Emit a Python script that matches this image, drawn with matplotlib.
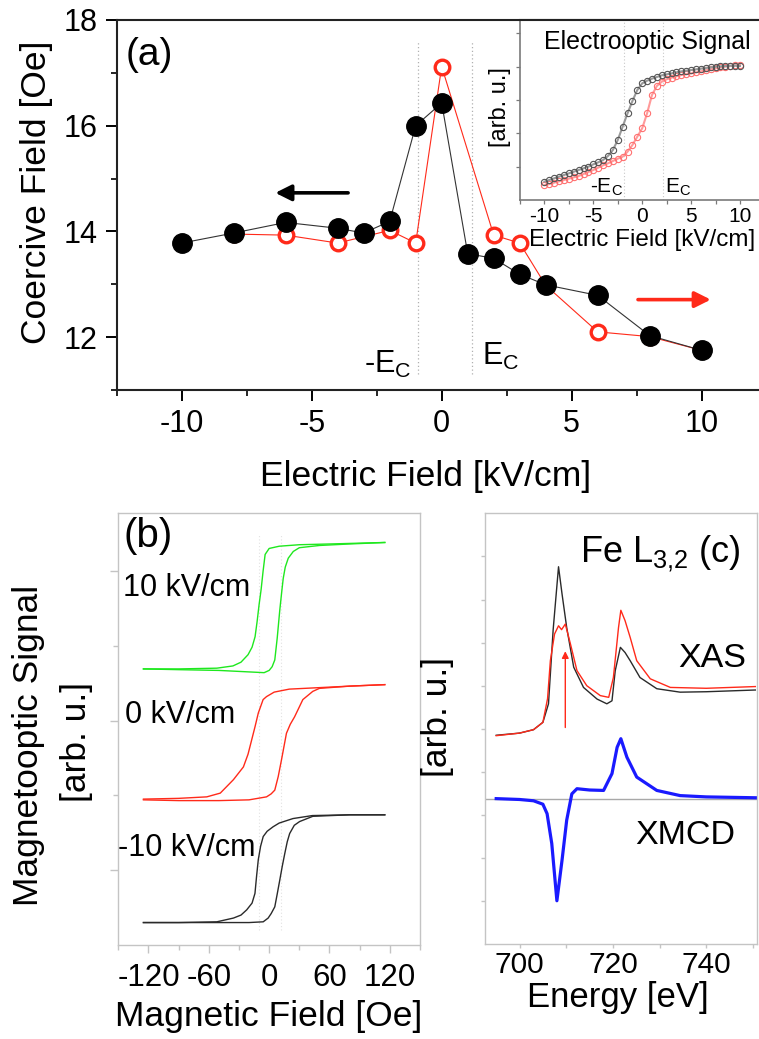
import matplotlib
matplotlib.use("Agg")
import matplotlib.pyplot as plt

plt.rcParams["font.family"] = ["Liberation Sans", "DejaVu Sans"]
plt.rcParams["mathtext.fontset"] = "custom"
plt.rcParams["mathtext.rm"] = "Liberation Sans"
plt.rcParams["mathtext.it"] = "Liberation Sans"
plt.rcParams["axes.unicode_minus"] = False

W, H = 759, 1039

# (a) coercive field vs electric field
field_black = [-10, -8, -6, -4, -3, -2, -1, 0, 1, 2, 3, 4, 6, 8, 10]
hc_black = [13.78, 13.97, 14.17, 14.06, 13.97, 14.19, 16.0, 16.43, 13.58, 13.49, 13.19, 12.99, 12.79, 12.03, 11.75]
field_red = [-8, -6, -4, -2, -1, 0, 2, 3, 4, 6, 8, 10]
hc_red = [13.95, 13.93, 13.78, 14.02, 13.78, 17.12, 13.93, 13.78, 12.98, 12.10, 12.01, 11.75]
ec_minus, ec_plus = -0.9, 1.15

# inset: electrooptic signal
eo_field = [-10, -9.5, -9, -8.5, -8, -7.5, -7, -6.5, -6, -5.5, -5, -4.5, -4, -3.5, -3, -2.5, -2,
            -1.5, -1, -0.5, 0, 0.5, 1, 1.5, 2, 2.5, 3, 3.5, 4, 4.5, 5, 5.5, 6, 6.5, 7, 7.5, 8,
            8.5, 9, 9.5, 10]
eo_gray = [0.55, 0.6, 0.65, 0.7, 0.75, 0.8, 0.85, 0.9, 0.95, 1.0, 1.07, 1.13, 1.2, 1.32, 1.5, 1.8,
           2.2, 2.6, 2.97, 3.3, 3.5, 3.58, 3.64, 3.69, 3.74, 3.77, 3.8, 3.83, 3.86, 3.88, 3.9, 3.92,
           3.94, 3.96, 3.98, 4.0, 4.01, 4.02, 4.03, 4.03, 4.02]
eo_red = [0.45, 0.48, 0.52, 0.56, 0.6, 0.64, 0.68, 0.72, 0.78, 0.84, 0.9, 0.97, 1.04, 1.1, 1.17,
          1.24, 1.3, 1.45, 1.65, 1.9, 2.15, 2.6, 3.15, 3.42, 3.55, 3.62, 3.67, 3.71, 3.75, 3.78,
          3.8, 3.83, 3.86, 3.89, 3.92, 3.95, 3.98, 4.0, 4.02, 4.04, 4.05]
eo_ec = [-1.9, 2.1]

# (b) magnetooptic hysteresis loops, field in Oe
green_down_h = [115, 60, 30, 10, 0, -4, -6, -8, -10, -12, -14, -17, -21, -28, -36, -52, -90, -125]
green_down_v = [5.38, 5.36, 5.35, 5.33, 5.3, 5.22, 5.0, 4.75, 4.55, 4.32, 4.12, 3.98, 3.88, 3.78, 3.73, 3.70, 3.69, 3.69]
green_up_h = [-125, -90, -50, -20, -5, 0, 3, 5.6, 8, 10.6, 12.5, 14, 16, 19, 24, 30, 50, 80, 115]
green_up_v = [3.69, 3.68, 3.67, 3.65, 3.64, 3.67, 3.72, 3.81, 4.1, 4.48, 4.72, 4.9, 5.05, 5.17, 5.26, 5.31, 5.34, 5.36, 5.38]
red_down_h = [115, 80, 50, 20, 5, -2.6, -6, -10.8, -14, -17.4, -21, -25.6, -35.5, -48.6, -62, -90, -125]
red_down_v = [3.48, 3.46, 3.44, 3.42, 3.38, 3.32, 3.28, 3.1, 2.92, 2.74, 2.55, 2.38, 2.21, 2.03, 1.98, 1.96, 1.95]
red_up_h = [-125, -90, -50, -20, -2.6, 2, 5.6, 9, 12.2, 17.2, 21, 25.3, 33.5, 43.4, 50, 80, 115]
red_up_v = [1.94, 1.93, 1.93, 1.94, 1.98, 2.02, 2.07, 2.25, 2.47, 2.83, 2.95, 3.05, 3.28, 3.39, 3.43, 3.46, 3.48]
black_down_h = [115, 80, 43, 23.7, 10, 3.9, -2, -5.9, -8.5, -10.8, -12.5, -14.1, -17, -22.3, -28, -35.5, -52, -90, -125]
black_down_v = [1.74, 1.74, 1.73, 1.69, 1.63, 1.58, 1.52, 1.45, 1.32, 1.14, 0.92, 0.69, 0.56, 0.47, 0.4, 0.36, 0.31, 0.30, 0.30]
black_up_h = [-125, -90, -50, -20, -5.9, -1, 2, 5.6, 8, 10.6, 13, 15.5, 18, 20.4, 25, 30.3, 43.4, 80, 115]
black_up_v = [0.30, 0.30, 0.30, 0.30, 0.31, 0.36, 0.42, 0.51, 0.68, 0.87, 1.05, 1.22, 1.38, 1.49, 1.6, 1.65, 1.72, 1.74, 1.74]
hc_marks = [-10, 12]

# (c) Fe L3,2 absorption spectra
energy_black = [695, 700, 703, 705, 706.2, 707.2, 708.35, 709.1, 710.1, 711.6, 713.7, 716.6, 718.7,
                719.8, 720.5, 721.6, 722.6, 723.7, 725.8, 729.4, 734.4, 740, 750.5]
xas_black = [4.85, 4.9, 4.98, 5.15, 5.58, 7.3, 8.76, 8.13, 7.35, 6.43, 5.96, 5.69, 5.58, 5.65, 6.35,
             6.89, 6.77, 6.58, 6.19, 5.93, 5.85, 5.86, 5.9]
energy_red = [695, 700, 703, 705, 706, 706.6, 707.5, 708.35, 709, 709.8, 710.9, 712.3, 714.4, 717.3,
              719.1, 720.1, 721.2, 721.7, 722.6, 723.7, 725.1, 728, 732.3, 740, 750.5]
xas_red = [4.84, 4.9, 4.98, 5.15, 5.7, 6.58, 7.2, 7.39, 7.3, 7.43, 6.97, 6.35, 6.0, 5.77, 5.73, 6.19,
           7.35, 7.75, 7.51, 7.12, 6.58, 6.16, 5.96, 5.94, 5.98]
energy_xmcd = [695, 700, 703, 705, 705.9, 706.9, 708, 709.1, 710.1, 711.2, 712.3, 715, 718, 719.8,
               720.9, 721.7, 723, 725.1, 729.4, 734.4, 740, 750.5]
xmcd = [3.38, 3.36, 3.33, 3.25, 3.03, 2.34, 1.01, 1.95, 2.88, 3.49, 3.61, 3.58, 3.57, 3.96, 4.57,
        4.77, 4.34, 3.88, 3.57, 3.45, 3.42, 3.4]
xmcd_zero = 3.38
arrow_energy, arrow_from, arrow_to = 709.8, 5.03, 6.8

RED = "#ff2a1a"
GREEN = "#1ee81e"
FRAME = "#c4c4c4"


def px_box(left, top, right, bottom):
    return [left / W, 1 - bottom / H, (right - left) / W, (bottom - top) / H]


fig = plt.figure(figsize=(W / 100, H / 100), dpi=100, facecolor="white")

# ---- panel (a)
ax = fig.add_axes(px_box(116.7, 20, 766.7, 390))
ax.set_xlim(-12.5, 12.5)
ax.set_ylim(11, 18)
for side in ["left", "bottom", "top", "right"]:
    ax.spines[side].set_linewidth(1.5)
    ax.spines[side].set_color("#222222")
ax.set_xticks([-10, -5, 0, 5, 10])
ax.set_xticks([-12.5, -7.5, -2.5, 2.5, 7.5, 12.5], minor=True)
ax.set_yticks([12, 14, 16, 18])
ax.set_yticks([11, 13, 15, 17], minor=True)
ax.tick_params(which="major", direction="out", length=8, width=1.4, labelsize=22, pad=6)
ax.tick_params(which="minor", direction="out", length=4.5, width=1.2)

for xv in [ec_minus, ec_plus]:
    ax.plot([xv, xv], [11.3, 17.6], ls=(0, (1, 2)), color="#b0b0b0", lw=0.9, zorder=1)

ax.plot(field_red, hc_red, "-", color=RED, lw=0.8, zorder=2)
ax.plot(field_red, hc_red, "o", ms=10.5, mfc="white", mec=RED, mew=2.4, zorder=3)
ax.plot(field_black, hc_black, "-", color="#333333", lw=0.8, zorder=4)
ax.plot(field_black, hc_black, "o", ms=14, color="black", zorder=5)

ax.annotate("", xy=(-6.4, 14.73), xytext=(-3.6, 14.73),
            arrowprops=dict(arrowstyle="-|>", color="black", lw=2.6, mutation_scale=24, shrinkA=0, shrinkB=0))
ax.annotate("", xy=(10.35, 12.71), xytext=(7.55, 12.71),
            arrowprops=dict(arrowstyle="-|>", color=RED, lw=2.6, mutation_scale=24, shrinkA=0, shrinkB=0))

ax.text(-12.15, 17.34, "(a)", fontsize=28, ha="left", va="center")
ax.text(-1.15, 11.33, "-E$_\\mathregular{C}$", fontsize=22, ha="right", va="baseline")
ax.text(1.55, 11.48, "E$_\\mathregular{C}$", fontsize=22, ha="left", va="baseline")

fig.text(37 / W, 1 - 192 / H, "Coercive Field [Oe]", rotation=90, fontsize=25.5, ha="center", va="center")
fig.text(425.5 / W, 1 - 476.7 / H, "Electric Field [kV/cm]", fontsize=25.5, ha="center", va="center")

# ---- inset
axi = fig.add_axes(px_box(520, 20, 764.4, 200))
axi.set_xlim(-12.5, 12.5)
axi.set_ylim(0, 5.4)
for side in ["left", "bottom"]:
    axi.spines[side].set_color("#7a7a7a")
    axi.spines[side].set_linewidth(1.2)
axi.spines["top"].set_linewidth(1.5)
axi.spines["top"].set_color("#222222")
axi.spines["right"].set_visible(False)
axi.set_xticks([-10, -5, 0, 5, 10])
axi.set_xticks([-12.5, -7.5, -2.5, 2.5, 7.5], minor=True)
axi.set_yticks([2, 4])
axi.set_yticks([1, 3, 5], minor=True)
axi.set_yticklabels([])
axi.tick_params(which="both", direction="out", length=3, width=0.9, color="#7a7a7a", labelsize=15, pad=2)
for xv in eo_ec:
    axi.axvline(xv, ls=(0, (1, 2)), color="#c8c8c8", lw=0.8, zorder=1)
axi.plot(eo_field, eo_red, "-", color="#ff9a9a", lw=1.5, zorder=2)
axi.plot(eo_field, eo_red, "o", ms=4.5, mfc="none", mec="#ff7070", mew=0.8, zorder=2)
axi.plot(eo_field, eo_gray, "-", color="#9a9a9a", lw=1.5, zorder=3)
axi.plot(eo_field, eo_gray, "o", ms=4.5, mfc="none", mec="#555555", mew=0.8, zorder=3)
axi.text(0.56, 4.75, "Electrooptic Signal", fontsize=18, ha="center", va="center")
axi.text(-2.0, 0.05, "-E$_\\mathregular{C}$", fontsize=15, ha="right", va="bottom")
axi.text(2.3, 0.05, "E$_\\mathregular{C}$", fontsize=15, ha="left", va="bottom")
fig.text(500 / W, 1 - 107 / H, "[arb. u.]", rotation=90, fontsize=17, ha="center", va="center")
fig.text(642.5 / W, 1 - 240 / H, "Electric Field [kV/cm]", fontsize=17.5, ha="center", va="center")

# ---- panel (b)
axb = fig.add_axes(px_box(118.3, 513.3, 420, 945))
axb.set_xlim(-150, 150)
axb.set_ylim(0, 5.77)
for side in axb.spines.values():
    side.set_color(FRAME)
    side.set_linewidth(1.0)
axb.set_xticks([-120, -60, 0, 60, 120])
axb.set_xticks([-150, -90, -30, 30, 90, 150], minor=True)
axb.set_yticks([1, 3, 5])
axb.set_yticks([2, 4], minor=True)
axb.set_yticklabels([])
axb.tick_params(which="major", direction="out", length=6, width=1, color=FRAME, labelsize=22.5, pad=7)
axb.tick_params(which="minor", direction="out", length=3.5, width=1, color=FRAME)
for hv in hc_marks:
    axb.plot([hv, hv], [0.2, 5.5], ls=(0, (1, 2)), color="#e2e2e2", lw=0.8, zorder=1)
for hs, vs, col in [(green_down_h, green_down_v, GREEN), (green_up_h, green_up_v, GREEN),
                    (red_down_h, red_down_v, RED), (red_up_h, red_up_v, RED),
                    (black_down_h, black_down_v, "#2a2a2a"), (black_up_h, black_up_v, "#2a2a2a")]:
    axb.plot(hs, vs, "-", color=col, lw=1.0, zorder=2)
axb.text(-145, 5.46, "(b)", fontsize=29, ha="left", va="center")
axb.text(-145, 4.77, "10 kV/cm", fontsize=22, ha="left", va="center")
axb.text(-143, 3.07, "0 kV/cm", fontsize=22, ha="left", va="center")
axb.text(-150, 1.29, "-10 kV/cm", fontsize=22, ha="left", va="center")
fig.text(28.3 / W, 1 - 745 / H, "Magnetooptic Signal", rotation=90, fontsize=25.5, ha="center", va="center")
fig.text(76.7 / W, 1 - 741.7 / H, "[arb. u.]", rotation=90, fontsize=25.5, ha="center", va="center")
fig.text(268.5 / W, 1 - 1016.7 / H, "Magnetic Field [Oe]", fontsize=25.5, ha="center", va="center")

# ---- panel (c)
axc = fig.add_axes(px_box(485, 513.3, 756.7, 944.3))
axc.set_xlim(692.6, 750.8)
axc.set_ylim(0, 10)
for side in axc.spines.values():
    side.set_color(FRAME)
    side.set_linewidth(1.0)
axc.set_xticks([700, 720, 740])
axc.set_xticks([710, 730, 750], minor=True)
axc.set_yticks(range(1, 10))
axc.set_yticklabels([])
axc.tick_params(which="major", direction="out", length=3, width=1, color=FRAME, labelsize=21.5, pad=2)
axc.tick_params(which="minor", direction="out", length=3, width=1, color=FRAME)
axc.axhline(xmcd_zero, color="#a8a8a8", lw=1.0, zorder=1)
axc.plot(energy_black, xas_black, "-", color="#2a2a2a", lw=1.0, zorder=2)
axc.plot(energy_red, xas_red, "-", color=RED, lw=1.0, zorder=3)
axc.plot(energy_xmcd, xmcd, "-", color="#1a1aff", lw=2.3, zorder=3)
axc.annotate("", xy=(arrow_energy, arrow_to), xytext=(arrow_energy, arrow_from),
             arrowprops=dict(arrowstyle="-|>", color=RED, lw=1.0, mutation_scale=10, shrinkA=0, shrinkB=0))
axc.text(713.0, 9.05, "Fe L$_\\mathregular{3{,}2}$ (c)", fontsize=26, ha="left", va="center")
axc.text(734.0, 6.62, "XAS", fontsize=24.5, ha="left", va="center")
axc.text(724.7, 2.53, "XMCD", fontsize=24.5, ha="left", va="center")
fig.text(437 / W, 1 - 717 / H, "[arb. u.]", rotation=90, fontsize=25.5, ha="center", va="center")
fig.text(618 / W, 1 - 998 / H, "Energy [eV]", fontsize=25, ha="center", va="center")

fig.savefig("out.png", dpi=100, facecolor="white")
